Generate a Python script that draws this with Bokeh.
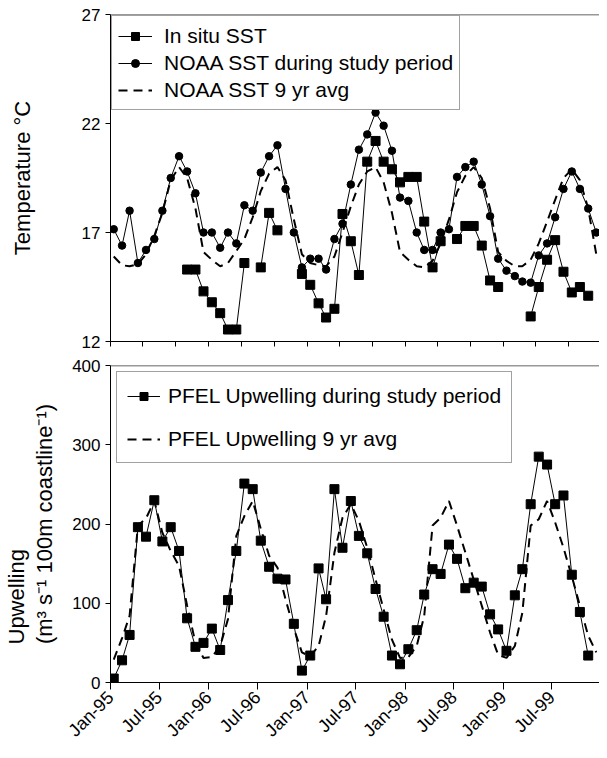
import math
import numpy as np
import pandas as pd
from bokeh.plotting import figure
from bokeh.layouts import column
from bokeh.models import (FixedTicker, DatetimeTickFormatter, Span, Legend,
                          LegendItem, Title, ColumnDataSource,
                          CustomLabelingPolicy)
from bokeh.embed import file_html
from bokeh.resources import INLINE

# ---------------- data ----------------
# monthly observations Jan-1995 .. Dec-1999, plotted mid-month
month_starts = pd.date_range("1995-01-01", periods=60, freq="MS")
dates = month_starts + pd.Timedelta(days=12)

nan = None
insitu_sst = [nan, nan, nan, nan, nan, nan, nan, nan, nan, 15.3,
              15.3, 14.3, 13.8, 13.3, 12.55, 12.55, 15.6, nan, 15.4, 17.9,
              17.1, nan, nan, 15.1, 14.6, 13.75, 13.1, 13.5, 17.85, 16.6,
              15.05, 20.25, 21.2, 20.25, 19.9, 19.3, 19.55, 19.55, 17.5, 15.4,
              16.6, nan, 16.7, 17.3, 17.3, 16.4, 14.8, 14.5, nan, nan,
              nan, 13.15, 14.5, 15.75, 16.65, 15.2, 14.25, 14.5, 14.1, nan]

noaa_sst = [17.15, 16.4, 18.0, 15.6, 16.2, 16.7, 18.0, 19.5, 20.5, 19.8,
            18.8, 17.0, 17.0, 16.3, 17.0, 16.5, 18.25, 18.0, 19.75, 20.5,
            21.0, 19.0, 17.0, 15.4, 15.8, 15.8, 15.3, 16.7, 17.4, 19.2,
            20.8, 21.5, 22.5, 21.9, 20.75, 18.6, 18.45, 17.0, 16.2, 16.2,
            17.0, 17.15, 19.55, 20.0, 20.25, 19.2, 17.75, 15.8, 15.25, 15.0,
            14.75, 14.7, 15.95, 16.5, 17.7, 19.0, 19.8, 19.0, 18.1, 17.0]

noaa_9yr = [15.9, 15.5, 15.45, 15.55, 16.0, 16.85, 17.9, 19.4, 20.0, 19.5,
            18.1, 16.1, 15.75, 15.45, 15.6, 16.15, 16.7, 17.7, 18.9, 19.7,
            20.0, 19.4, 17.6, 16.0, 15.6, 15.5, 15.45, 15.9, 17.0, 18.2,
            19.2, 19.8, 20.0, 19.3, 17.9, 16.1, 15.75, 15.45, 15.4, 15.7,
            16.5, 17.6, 18.85, 19.6, 20.0, 19.5, 18.1, 16.1, 15.7, 15.45,
            15.45, 15.75, 16.5, 17.5, 18.5, 19.5, 19.9, 19.4, 18.1, 16.0]

pfel_upw = [5, 28, 60, 196, 184, 230, 178, 196, 166, 81,
            45, 50, 68, 41, 104, 166, 251, 244, 179, 146,
            131, 130, 74, 15, 34, 144, 105, 244, 170, 229,
            185, 163, 118, 83, 34, 23, 42, 66, 111, 143,
            137, 174, 156, 119, 126, 121, 86, 67, 40, 110,
            143, 225, 285, 275, 225, 236, 136, 89, 34, nan]

pfel_9yr = [29, 56, 84, 198, 207, 229, 189, 166, 147, 97,
            50, 31, 32, 46, 80, 185, 210, 229, 194, 160,
            145, 105, 68, 38, 33, 46, 84, 164, 208, 225,
            204, 170, 130, 92, 54, 31, 32, 46, 84, 198,
            208, 229, 198, 164, 130, 97, 63, 35, 31, 46,
            88, 198, 206, 229, 202, 170, 134, 97, 59, 38]

temp_ticks = [12, 17, 22, 27]
upw_ticks = [0, 100, 200, 300, 400]
label_dates = ["1995-01-01", "1995-07-01", "1996-01-01", "1996-07-01",
               "1997-01-01", "1997-07-01", "1998-01-01", "1998-07-01",
               "1999-01-01", "1999-07-01"]
top_tick_dates = pd.date_range("1995-01-01", "1999-12-01", freq="4MS")

# ---------------- styling ----------------
FONT = "Liberation Sans"
X_START = pd.Timestamp("1995-01-01")
X_END = pd.Timestamp("1999-12-25")


def ms(ts):
    return pd.Timestamp(ts).value // 10**6


fmt = "%b-%y"
date_fmt = DatetimeTickFormatter(milliseconds=fmt, seconds=fmt, minsec=fmt,
                                 minutes=fmt, hourmin=fmt, hours=fmt,
                                 days=fmt, months=fmt, years=fmt)


def style(p):
    p.grid.visible = False
    p.outline_line_color = None
    p.background_fill_color = "white"
    p.border_fill_color = "white"
    for ax in (p.xaxis[0], p.yaxis[0]):
        ax.axis_line_color = "black"
        ax.axis_line_width = 1
        ax.major_tick_line_color = "black"
        ax.major_tick_in = 0
        ax.major_tick_out = 5
        ax.minor_tick_line_color = None
        ax.major_label_text_font = FONT
        ax.major_label_text_font_size = "17px"
        ax.major_label_text_color = "black"
        ax.axis_label_text_font = FONT
        ax.axis_label_text_font_size = "22px"
        ax.axis_label_text_font_style = "normal"
        ax.axis_label_text_color = "black"


src = ColumnDataSource(dict(x=dates,
                            insitu=np.array(insitu_sst, dtype=float),
                            noaa=np.array(noaa_sst, dtype=float),
                            noaa9=np.array(noaa_9yr, dtype=float),
                            upw=np.array(pfel_upw, dtype=float),
                            upw9=np.array(pfel_9yr, dtype=float)))

# ---------------- top panel ----------------
top = figure(width=599, height=353, x_axis_type="datetime",
             x_range=(X_START, X_END), y_range=(12, 27),
             output_backend="svg", toolbar_location=None,
             min_border_left=104, min_border_right=0,
             min_border_top=14, min_border_bottom=12)
style(top)
top.xaxis.ticker = FixedTicker(ticks=[ms(d) for d in top_tick_dates])
top.xaxis.major_label_policy = CustomLabelingPolicy(
    code="for (const i of indices) { indices.unset(i) }\nreturn indices")
top.xaxis.major_label_text_font_size = "0px"
top.xaxis.major_label_standoff = 0
top.yaxis.ticker = FixedTicker(ticks=temp_ticks)
top.yaxis.axis_label = "Temperature \u00b0C"
top.yaxis.axis_label_standoff = 44
top.add_layout(Span(location=27, dimension="width", line_color="#333",
                    line_width=1.5))

d_line = top.line("x", "noaa9", source=src, line_color="black",
                  line_width=2, line_dash="9 6")
n_line = top.line("x", "noaa", source=src, line_color="black", line_width=1)
n_pts = top.scatter("x", "noaa", source=src, marker="circle", size=7.5,
                    fill_color="black", line_color="black")
i_line = top.line("x", "insitu", source=src, line_color="black", line_width=1)
i_pts = top.scatter("x", "insitu", source=src, marker="square", size=9,
                    fill_color="black", line_color="black")

leg1 = Legend(items=[LegendItem(label="In situ SST", renderers=[i_line, i_pts]),
                     LegendItem(label="NOAA SST during study period",
                                renderers=[n_line, n_pts]),
                     LegendItem(label="NOAA SST 9 yr avg", renderers=[d_line])],
              location="top_left", margin=1, padding=6, spacing=0,
              glyph_width=34, glyph_height=20, label_height=27,
              label_standoff=12, label_text_font=FONT,
              label_text_font_size="21px", label_text_color="black",
              border_line_color="#444", border_line_width=1,
              background_fill_color="white", background_fill_alpha=1)
top.add_layout(leg1)

# ---------------- bottom panel ----------------
bot = figure(width=599, height=397, x_axis_type="datetime",
             x_range=top.x_range, y_range=(0, 400),
             output_backend="svg", toolbar_location=None,
             min_border_left=104, min_border_right=0,
             min_border_top=12, min_border_bottom=68)
style(bot)
bot.xaxis.ticker = FixedTicker(ticks=[ms(d) for d in label_dates])
bot.xaxis.formatter = date_fmt
bot.xaxis.major_label_orientation = math.pi / 4
bot.xaxis.major_label_text_font_size = "18px"
bot.xaxis.major_tick_out = 7
bot.yaxis.ticker = FixedTicker(ticks=upw_ticks)
bot.yaxis.axis_label = "(m\u00b3 s\u207b\u00b9 100m coastline\u207b\u00b9)"
bot.yaxis.axis_label_standoff = 12
bot.add_layout(Title(text="Upwelling", align="left", offset=38,
                     text_font=FONT, text_font_size="22px",
                     text_font_style="normal", text_color="black",
                     standoff=2), "left")
bot.add_layout(Span(location=400, dimension="width", line_color="#333",
                    line_width=1.5))

u9_line = bot.line("x", "upw9", source=src, line_color="black",
                   line_width=2, line_dash="9 6")
u_line = bot.line("x", "upw", source=src, line_color="black", line_width=1)
u_pts = bot.scatter("x", "upw", source=src, marker="square", size=9,
                    fill_color="black", line_color="black")

leg2 = Legend(items=[LegendItem(label="PFEL Upwelling during study period",
                                renderers=[u_line, u_pts]),
                     LegendItem(label="PFEL Upwelling 9 yr avg",
                                renderers=[u9_line])],
              location="top_left", margin=6, padding=10, spacing=16,
              glyph_width=33, glyph_height=20, label_height=27,
              label_standoff=8, label_text_font=FONT,
              label_text_font_size="21px", label_text_color="black",
              border_line_color="#444", border_line_width=1,
              background_fill_color="white", background_fill_alpha=1)
bot.add_layout(leg2)

layout = column(top, bot, spacing=0)
open("out.html", "w").write(file_html(layout, INLINE))
